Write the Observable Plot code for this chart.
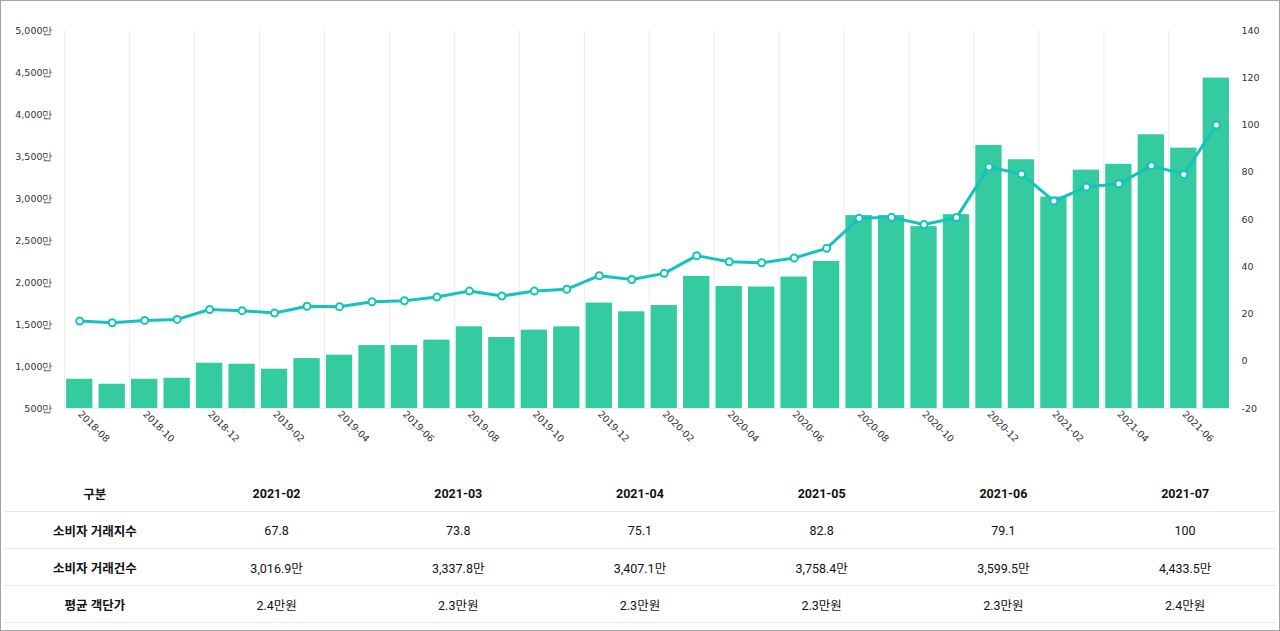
<!DOCTYPE html>
<html><head><meta charset="utf-8">
<script src="https://cdn.jsdelivr.net/npm/d3@7"></script>
<script src="https://cdn.jsdelivr.net/npm/@observablehq/plot@0.6"></script>
<style>
html,body{margin:0;padding:0;background:#fff;}
#wrap{position:relative;width:1280px;height:631px;overflow:hidden;background:#fff;}
#frame{position:absolute;left:0;top:0;width:1280px;height:631px;box-sizing:border-box;border:1px solid #a3a3a3;pointer-events:none;}
#chart{position:absolute;left:0;top:0;}
table{position:absolute;left:4px;top:475px;width:1272px;border-collapse:collapse;table-layout:fixed;font-family:Roboto,"Noto Sans CJK KR",sans-serif;font-size:12.5px;color:#111;}
td,th{height:36px;border-bottom:1px solid #e8e8e8;text-align:center;padding:0;}
th{font-weight:700;}
td.h{font-weight:700;}
</style>
</head><body>
<div id="wrap">
  <div id="chart"></div>
  <table id="tbl"></table>
  <div id="frame"></div>
</div>
<script>
// ---- data ----
const months = ["2018-08","2018-09","2018-10","2018-11","2018-12","2019-01","2019-02","2019-03","2019-04","2019-05","2019-06","2019-07","2019-08","2019-09","2019-10","2019-11","2019-12","2020-01","2020-02","2020-03","2020-04","2020-05","2020-06","2020-07","2020-08","2020-09","2020-10","2020-11","2020-12","2021-01","2021-02","2021-03","2021-04","2021-05","2021-06","2021-07"];
// 소비자 거래건수 (만)
const counts = [848,789,848,860,1039,1027,968,1094,1135,1249,1249,1314,1472,1345,1433,1472,1755,1651,1726,2072,1953,1946,2065,2251,2797,2797,2665,2808,3632,3461,3016.9,3337.8,3407.1,3758.4,3599.5,4433.5];
// 소비자 거래지수
const indexVals = [17.0,16.3,17.3,17.7,21.9,21.4,20.4,23.3,23.1,25.2,25.6,27.2,29.7,27.6,29.7,30.5,36.2,34.6,37.2,44.7,42.1,41.7,43.7,47.8,60.5,60.9,57.9,60.8,82.2,79.3,67.8,73.8,75.1,82.8,79.1,100];
const leftTicks = [500,1000,1500,2000,2500,3000,3500,4000,4500,5000];
const rightTicks = [-20,0,20,40,60,80,100,120,140];
const xTickLabels = ["2018-08","2018-10","2018-12","2019-02","2019-04","2019-06","2019-08","2019-10","2019-12","2020-02","2020-04","2020-06","2020-08","2020-10","2020-12","2021-02","2021-04","2021-06"];

// table
const tableHeader = ["구분","2021-02","2021-03","2021-04","2021-05","2021-06","2021-07"];
const rowLabels = ["소비자 거래지수","소비자 거래건수","평균 객단가"];
const tableIndex = ["67.8","73.8","75.1","82.8","79.1","100"];
const tableCount = ["3,016.9만","3,337.8만","3,407.1만","3,758.4만","3,599.5만","4,433.5만"];
const tablePrice = ["2.4만원","2.3만원","2.3만원","2.3만원","2.3만원","2.4만원"];

// ---- chart ----
const lMin = leftTicks[0], lMax = leftTicks[leftTicks.length-1];
const rMin = rightTicks[0], rMax = rightTicks[rightTicks.length-1];
const toLeft = r => lMin + (r - rMin) * (lMax - lMin) / (rMax - rMin);
const fromLeft = l => rMin + (l - lMin) * (rMax - rMin) / (lMax - lMin);

const data = months.map((m, i) => ({month: m, count: counts[i], idx: indexVals[i]}));
const barColor = "#33cb9f";
const lineColor = "#14c3bb";

const chart = Plot.plot({
  width: 1280,
  height: 460,
  marginTop: 30,
  marginBottom: 52,
  marginLeft: 63,
  marginRight: 48,
  style: {fontFamily: "'DejaVu Sans', sans-serif", fontSize: "9.5px", color: "#333", background: "transparent"},
  x: {type: "band", domain: months, paddingInner: 0.19, paddingOuter: 0.095, round: false},
  y: {domain: [lMin, lMax]},
  marks: [
    Plot.ruleX(xTickLabels, {x: d => d, y1: lMin, y2: lMax, stroke: "#ececec", strokeWidth: 1, dx: -15}),
    Plot.ruleY([lMin], {stroke: "#eeeeee"}),
    Plot.barY(data, {x: "month", y1: lMin, y2: "count", fill: barColor}),
    Plot.line(data, {x: "month", y: d => toLeft(d.idx), stroke: lineColor, strokeWidth: 3}),
    Plot.dot(data, {x: "month", y: d => toLeft(d.idx), r: 3.5, fill: "white", stroke: lineColor, strokeWidth: 2}),
    Plot.axisY(leftTicks, {anchor: "left", tickSize: 0, tickPadding: 11, label: null, tickFormat: d => d3.format(",")(d) + "만"}),
    Plot.axisY(rightTicks.map(toLeft), {anchor: "right", tickSize: 0, tickPadding: 9, label: null, tickFormat: d => String(Math.round(fromLeft(d)))}),
    Plot.axisX(xTickLabels, {tickSize: 0, tickPadding: 4, tickRotate: 45, label: null})
  ]
});
document.getElementById("chart").appendChild(chart);

// ---- table ----
const tbl = document.getElementById("tbl");
const hr = document.createElement("tr");
tableHeader.forEach(h => { const th = document.createElement("th"); th.textContent = h; hr.appendChild(th); });
tbl.appendChild(hr);
[tableIndex, tableCount, tablePrice].forEach((row, ri) => {
  const tr = document.createElement("tr");
  const td0 = document.createElement("td"); td0.className = "h"; td0.textContent = rowLabels[ri]; tr.appendChild(td0);
  row.forEach(v => { const td = document.createElement("td"); td.textContent = v; tr.appendChild(td); });
  tbl.appendChild(tr);
});
</script>
</body></html>
